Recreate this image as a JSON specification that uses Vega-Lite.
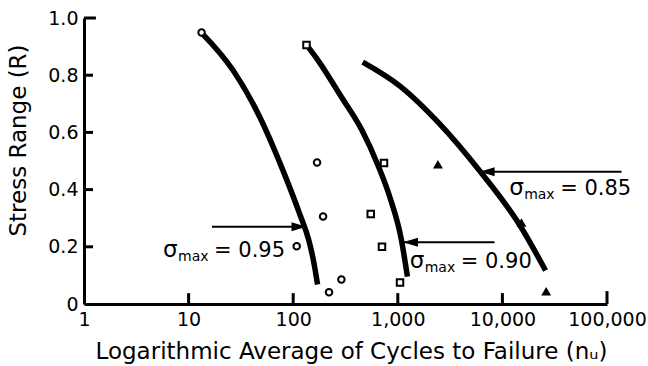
{
  "$schema": "https://vega.github.io/schema/vega-lite/v6.json",
  "width": 523,
  "height": 286,
  "autosize": {"type": "none"},
  "padding": {"left": 84, "top": 18, "right": 41, "bottom": 62},
  "background": "white",
  "config": {
    "view": {"stroke": null},
    "font": "DejaVu Sans",
    "axis": {
      "domainColor": "black",
      "domainWidth": 3,
      "ticks": false,
      "labelColor": "black",
      "titleColor": "black",
      "labelFont": "DejaVu Sans",
      "titleFont": "DejaVu Sans",
      "labelFontSize": 19,
      "titleFontSize": 23,
      "titleFontWeight": "normal",
      "grid": false
    }
  },
  "datasets": {
    "curves": [
      {"curve": "0.95", "n": 13.3, "R": 0.948},
      {"curve": "0.95", "n": 26.5, "R": 0.818},
      {"curve": "0.95", "n": 48.0, "R": 0.653},
      {"curve": "0.95", "n": 79.6, "R": 0.468},
      {"curve": "0.95", "n": 115.6, "R": 0.314},
      {"curve": "0.95", "n": 141, "R": 0.223},
      {"curve": "0.95", "n": 157, "R": 0.148},
      {"curve": "0.95", "n": 171, "R": 0.068},
      {"curve": "0.90", "n": 134, "R": 0.906},
      {"curve": "0.90", "n": 172, "R": 0.853},
      {"curve": "0.90", "n": 289, "R": 0.724},
      {"curve": "0.90", "n": 452, "R": 0.609},
      {"curve": "0.90", "n": 643, "R": 0.487},
      {"curve": "0.90", "n": 837, "R": 0.375},
      {"curve": "0.90", "n": 1082, "R": 0.225},
      {"curve": "0.90", "n": 1236, "R": 0.096},
      {"curve": "0.85", "n": 462, "R": 0.846},
      {"curve": "0.85", "n": 1042, "R": 0.763},
      {"curve": "0.85", "n": 2512, "R": 0.630},
      {"curve": "0.85", "n": 6053, "R": 0.466},
      {"curve": "0.85", "n": 14590, "R": 0.277},
      {"curve": "0.85", "n": 25860, "R": 0.117}
    ],
    "points": [
      {"type": "circle", "n": 13.3, "R": 0.949},
      {"type": "circle", "n": 169, "R": 0.495},
      {"type": "circle", "n": 193, "R": 0.306},
      {"type": "circle", "n": 108, "R": 0.202},
      {"type": "circle", "n": 220, "R": 0.041},
      {"type": "circle", "n": 289, "R": 0.086},
      {"type": "square", "n": 134, "R": 0.906},
      {"type": "square", "n": 738, "R": 0.493},
      {"type": "square", "n": 551, "R": 0.315},
      {"type": "square", "n": 706, "R": 0.2},
      {"type": "square", "n": 1050, "R": 0.075},
      {"type": "triangle", "n": 2420, "R": 0.487},
      {"type": "triangle", "n": 15200, "R": 0.283},
      {"type": "triangle", "n": 26200, "R": 0.043}
    ],
    "xticks": [
      {"n": 10, "R": 0, "R2": 0.038},
      {"n": 100, "R": 0, "R2": 0.038},
      {"n": 1000, "R": 0, "R2": 0.038},
      {"n": 10000, "R": 0, "R2": 0.038},
      {"n": 100000, "R": 0, "R2": 0.045}
    ],
    "yticks": [
      {"n": 1, "n2": 1.22, "R": 0.2},
      {"n": 1, "n2": 1.22, "R": 0.4},
      {"n": 1, "n2": 1.22, "R": 0.6},
      {"n": 1, "n2": 1.22, "R": 0.8},
      {"n": 1, "n2": 1.3, "R": 1.0}
    ],
    "arrowsR": [
      {"n": 16.7, "n2": 134, "R": 0.27}
    ],
    "arrowsL": [
      {"n": 8420, "n2": 1122, "R": 0.216},
      {"n": 137700, "n2": 6060, "R": 0.462}
    ],
    "labels": [
      {"n": 5.7, "R": 0.166, "sym": "σ", "sub": "max", "val": "= 0.95"},
      {"n": 1300, "R": 0.127, "sym": "σ", "sub": "max", "val": "= 0.90"},
      {"n": 11600, "R": 0.382, "sym": "σ", "sub": "max", "val": "= 0.85"}
    ]
  },
  "layer": [
    {
      "data": {"name": "curves"},
      "mark": {"type": "line", "color": "black", "strokeWidth": 5.5, "interpolate": "monotone", "strokeCap": "butt"},
      "encoding": {
        "x": {
          "field": "n", "type": "quantitative",
          "scale": {"type": "log", "domain": [1, 100000], "nice": false},
          "axis": {
            "title": "Logarithmic Average of Cycles to Failure (nᵤ)",
            "values": [1, 10, 100, 1000, 10000, 100000],
            "format": ",",
            "labelPadding": 6,
            "labelFlush": false,
            "titleX": 267,
            "titleY": 54,
            "titleBaseline": "alphabetic",
            "titleAlign": "center"
          }
        },
        "y": {
          "field": "R", "type": "quantitative",
          "scale": {"domain": [0, 1], "nice": false},
          "axis": {
            "title": "Stress Range (R)",
            "values": [0, 0.2, 0.4, 0.6, 0.8, 1.0],
            "labelExpr": "datum.value == 0 ? '0' : format(datum.value, '.1f')",
            "labelPadding": 6,
            "labelFlush": false,
            "titleX": -59,
            "titleY": 122,
            "titleBaseline": "alphabetic",
            "titleAlign": "center",
            "titleAngle": -90
          }
        },
        "detail": {"field": "curve"}
      }
    },
    {
      "data": {"name": "xticks"},
      "mark": {"type": "rule", "color": "black", "strokeWidth": 3},
      "encoding": {
        "x": {"field": "n", "type": "quantitative"},
        "y": {"field": "R", "type": "quantitative"},
        "y2": {"field": "R2"}
      }
    },
    {
      "data": {"name": "yticks"},
      "mark": {"type": "rule", "color": "black", "strokeWidth": 3},
      "encoding": {
        "x": {"field": "n", "type": "quantitative"},
        "x2": {"field": "n2"},
        "y": {"field": "R", "type": "quantitative"}
      }
    },
    {
      "data": {"name": "points"},
      "mark": {"type": "point", "stroke": "black", "strokeWidth": 2, "size": 42, "opacity": 1},
      "encoding": {
        "x": {"field": "n", "type": "quantitative"},
        "y": {"field": "R", "type": "quantitative"},
        "shape": {"field": "type", "type": "nominal", "scale": {"domain": ["circle", "square", "triangle"], "range": ["circle", "square", "triangle-up"]}, "legend": null},
        "fill": {"field": "type", "type": "nominal", "scale": {"domain": ["circle", "square", "triangle"], "range": ["white", "white", "black"]}, "legend": null}
      }
    },
    {
      "data": {"name": "arrowsR"},
      "mark": {"type": "rule", "color": "black", "strokeWidth": 2},
      "encoding": {
        "x": {"field": "n", "type": "quantitative"},
        "x2": {"field": "n2"},
        "y": {"field": "R", "type": "quantitative"}
      }
    },
    {
      "data": {"name": "arrowsL"},
      "mark": {"type": "rule", "color": "black", "strokeWidth": 2},
      "encoding": {
        "x": {"field": "n", "type": "quantitative"},
        "x2": {"field": "n2"},
        "y": {"field": "R", "type": "quantitative"}
      }
    },
    {
      "data": {"name": "arrowsR"},
      "mark": {"type": "point", "filled": true, "color": "black", "size": 225, "opacity": 1, "shape": "M0,0L-2,-0.6L-2,0.6Z"},
      "encoding": {
        "x": {"field": "n2", "type": "quantitative"},
        "y": {"field": "R", "type": "quantitative"}
      }
    },
    {
      "data": {"name": "arrowsL"},
      "mark": {"type": "point", "filled": true, "color": "black", "size": 225, "opacity": 1, "shape": "M0,0L2,-0.6L2,0.6Z"},
      "encoding": {
        "x": {"field": "n2", "type": "quantitative"},
        "y": {"field": "R", "type": "quantitative"}
      }
    },
    {
      "data": {"name": "labels"},
      "mark": {"type": "text", "align": "left", "baseline": "alphabetic", "fontSize": 23, "color": "black", "font": "DejaVu Sans"},
      "encoding": {
        "x": {"field": "n", "type": "quantitative"},
        "y": {"field": "R", "type": "quantitative"},
        "text": {"field": "sym"}
      }
    },
    {
      "data": {"name": "labels"},
      "mark": {"type": "text", "align": "left", "baseline": "alphabetic", "fontSize": 14, "dx": 15, "dy": 4, "color": "black", "font": "DejaVu Sans"},
      "encoding": {
        "x": {"field": "n", "type": "quantitative"},
        "y": {"field": "R", "type": "quantitative"},
        "text": {"field": "sub"}
      }
    },
    {
      "data": {"name": "labels"},
      "mark": {"type": "text", "align": "left", "baseline": "alphabetic", "fontSize": 21, "dx": 51, "color": "black", "font": "DejaVu Sans"},
      "encoding": {
        "x": {"field": "n", "type": "quantitative"},
        "y": {"field": "R", "type": "quantitative"},
        "text": {"field": "val"}
      }
    }
  ]
}
